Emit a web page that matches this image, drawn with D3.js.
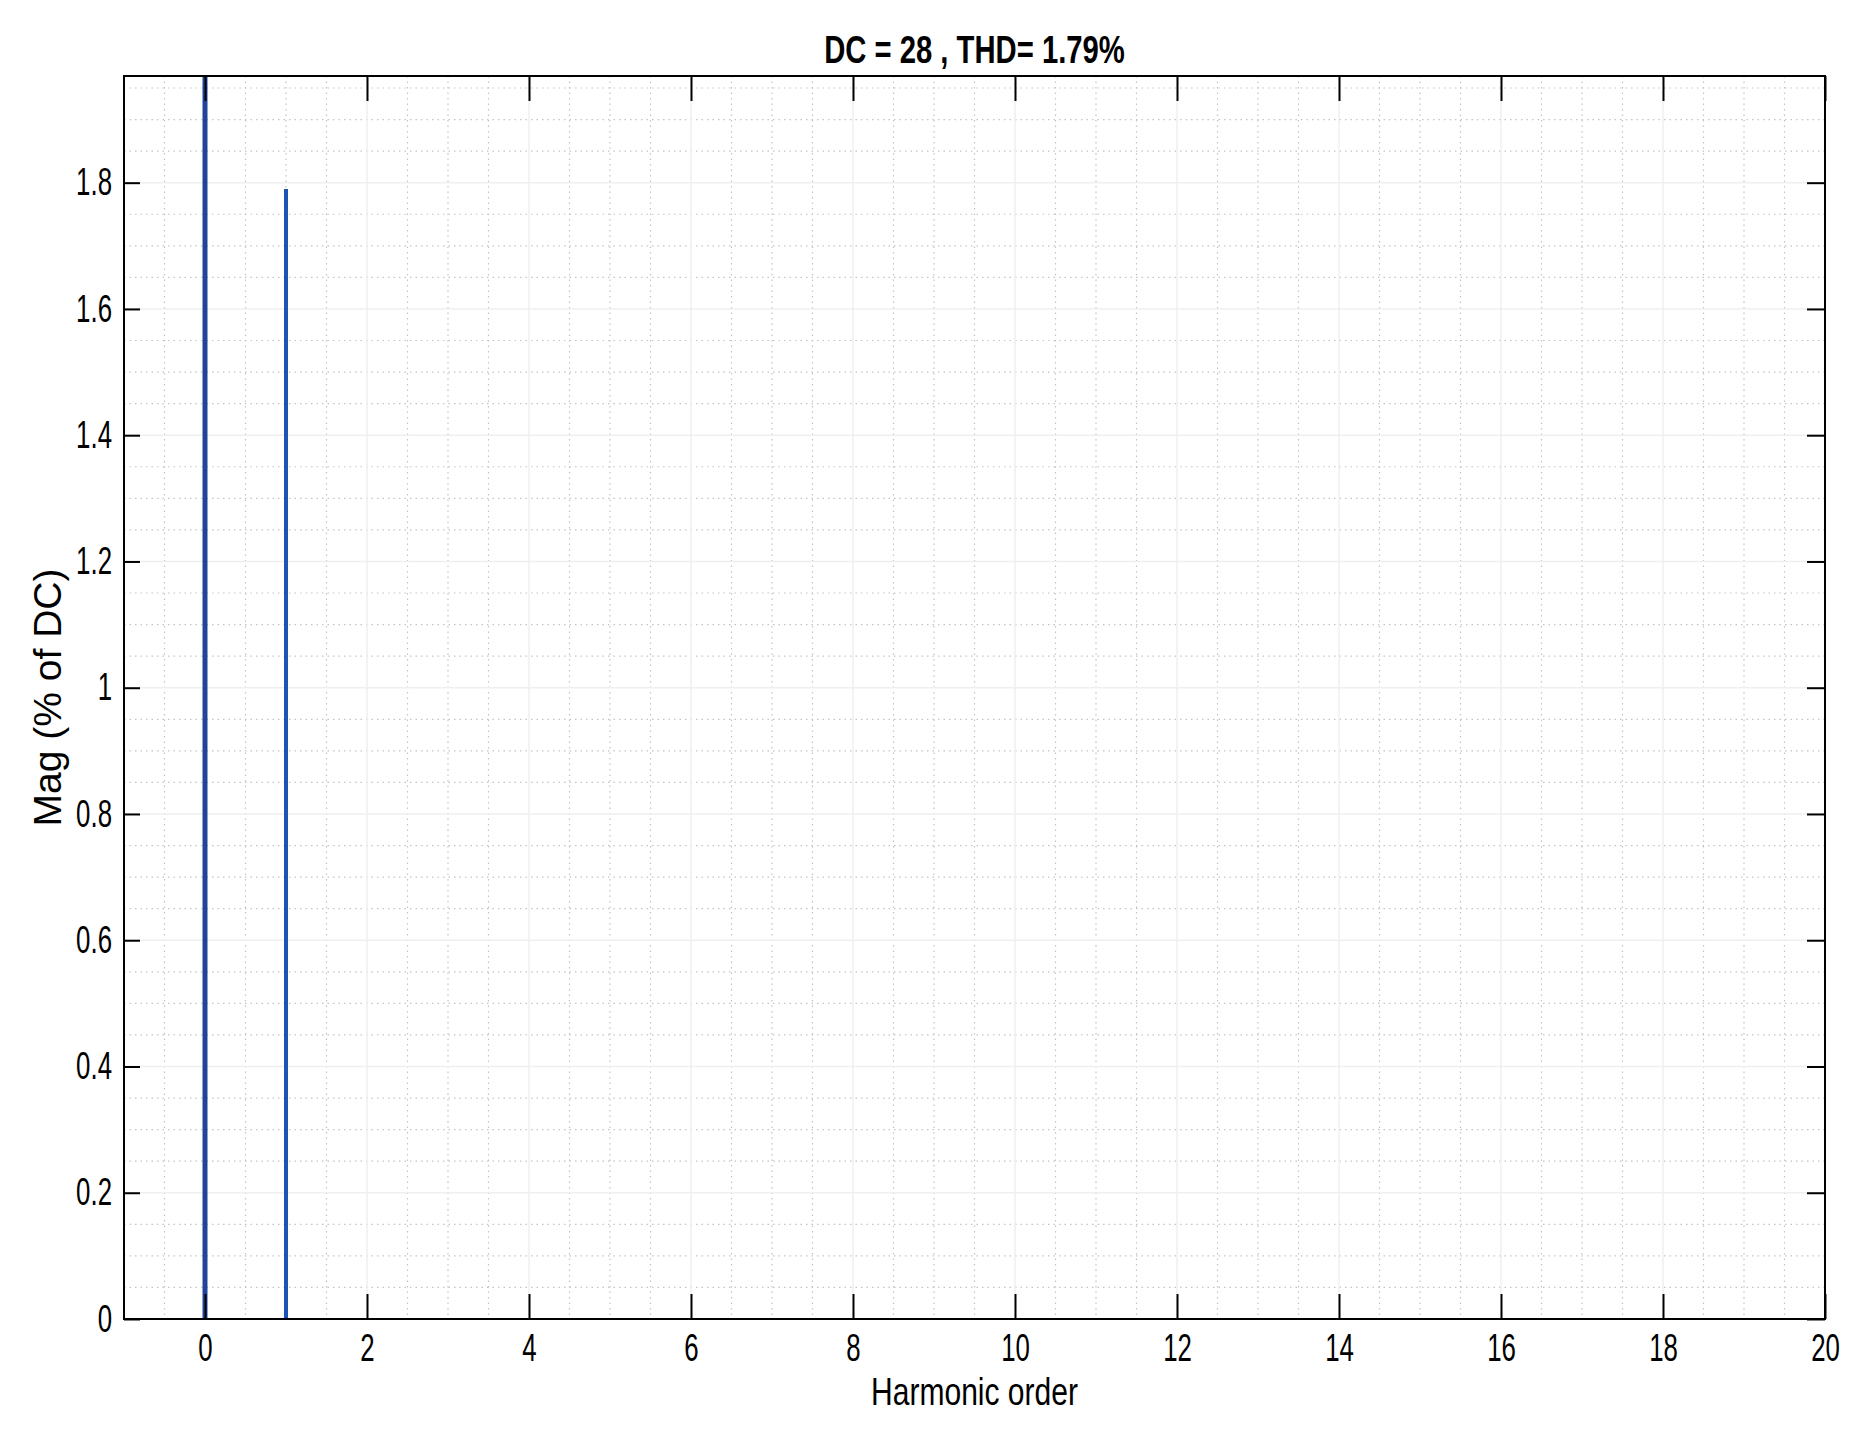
<!DOCTYPE html>
<html>
<head>
    <meta charset="UTF-8">
    <title>Harmonic spectrum</title>
    <style>
        body { margin: 0; background: #fff; }
        text { font-family: "Liberation Sans", Arial, sans-serif; fill: #000; }
    </style>
</head>
<body>
<div id="chart"></div>
<script src="https://cdn.jsdelivr.net/npm/d3@7"></script>
<script>
// values
var harmonicOrder = [0, 1];
var magnitude = [100, 1.79];          // % of DC, the DC bin runs off the top
var dcValue = 28;
var thdValue = 1.79;
var xTicks = [0, 2, 4, 6, 8, 10, 12, 14, 16, 18, 20];
var yTicks = [0, 0.2, 0.4, 0.6, 0.8, 1, 1.2, 1.4, 1.6, 1.8];

var width = 1870, height = 1438;
var margin = {top: 76, right: 45, bottom: 119, left: 124};
var w = width - margin.left - margin.right;
var h = height - margin.top - margin.bottom;
var narrow = 0.68;   // the original uses a condensed face, squeeze the glyphs

var svg = d3.select("#chart").append("svg")
        .attr("width", width)
        .attr("height", height);

var g = svg.append("g")
        .attr("transform", "translate(" + margin.left + "," + margin.top + ")");

var x = d3.scaleLinear().domain([-1, 20]).range([0, w]);
var y = d3.scaleLinear().domain([0, thdValue * 1.1]).range([h, 0]);

// minor grid, dotted
var minorX = d3.range(-0.5, 20, 0.5).filter(function(v) { return xTicks.indexOf(v) < 0; });
var minorY = d3.range(0.05, y.domain()[1], 0.05).filter(function(v) {
    return Math.abs(v / 0.2 - Math.round(v / 0.2)) > 1e-6;
});
g.append("g").selectAll("line").data(minorX).enter().append("line")
        .attr("x1", function(d) { return x(d); })
        .attr("x2", function(d) { return x(d); })
        .attr("y1", 0).attr("y2", h)
        .attr("stroke", "#c4c4c4").attr("stroke-width", 1.2)
        .attr("stroke-dasharray", "1.5,4");
g.append("g").selectAll("line").data(minorY).enter().append("line")
        .attr("x1", 0).attr("x2", w)
        .attr("y1", function(d) { return y(d); })
        .attr("y2", function(d) { return y(d); })
        .attr("stroke", "#c4c4c4").attr("stroke-width", 1.2)
        .attr("stroke-dasharray", "1.5,4");

// major grid, faint solid
g.append("g").selectAll("line").data(xTicks).enter().append("line")
        .attr("x1", function(d) { return x(d); })
        .attr("x2", function(d) { return x(d); })
        .attr("y1", 0).attr("y2", h)
        .attr("stroke", "#efefef").attr("stroke-width", 1.5);
g.append("g").selectAll("line").data(yTicks).enter().append("line")
        .attr("x1", 0).attr("x2", w)
        .attr("y1", function(d) { return y(d); })
        .attr("y2", function(d) { return y(d); })
        .attr("stroke", "#efefef").attr("stroke-width", 1.5);

// stems
g.append("clipPath").attr("id", "clip")
        .append("rect").attr("width", w).attr("height", h);
g.append("g").attr("clip-path", "url(#clip)")
        .selectAll("line").data(harmonicOrder).enter().append("line")
        .attr("x1", function(d) { return x(d); })
        .attr("x2", function(d) { return x(d); })
        .attr("y1", y(0))
        .attr("y2", function(d, i) { return y(magnitude[i]); })
        .attr("stroke", function(d, i) { return i == 0 ? "#21449a" : "#1d55b5"; })
        .attr("stroke-width", function(d, i) { return i == 0 ? 5 : 4; });

// axes: ticks inside, on all four sides
function styleAxis(sel) {
    sel.select(".domain").remove();
    sel.selectAll(".tick line").attr("stroke", "#000").attr("stroke-width", 2);
    sel.attr("font-family", null).attr("font-size", 38);
}
var yFmt = function(d) { return d3.format("")(+d.toFixed(1)); };

g.append("g").attr("transform", "translate(0," + h + ")")
        .call(d3.axisBottom(x).tickValues(xTicks).tickFormat(d3.format("d")).tickSizeInner(-25).tickPadding(15))
        .call(styleAxis)
        .selectAll("text").attr("transform", "scale(" + narrow + ",1)");
g.append("g")
        .call(d3.axisTop(x).tickValues(xTicks).tickFormat("").tickSizeInner(-25))
        .call(styleAxis);
g.append("g")
        .call(d3.axisLeft(y).tickValues(yTicks).tickFormat(yFmt).tickSizeInner(-16).tickPadding(12))
        .call(styleAxis)
        .selectAll("text")
        .attr("x", -12 / narrow)
        .attr("transform", "scale(" + narrow + ",1)");
g.append("g").attr("transform", "translate(" + w + ",0)")
        .call(d3.axisRight(y).tickValues(yTicks).tickFormat("").tickSizeInner(-18))
        .call(styleAxis);

// box
g.append("rect")
        .attr("width", w).attr("height", h)
        .attr("fill", "none").attr("stroke", "#000").attr("stroke-width", 2);

// labels
var cx = margin.left + w / 2;
svg.append("text")
        .attr("transform", "translate(" + cx + ",63) scale(0.75,1)")
        .attr("text-anchor", "middle")
        .attr("font-size", 39).attr("font-weight", "bold")
        .text("DC = " + dcValue + " , THD= " + thdValue + "%");
svg.append("text")
        .attr("transform", "translate(" + cx + ",1405) scale(0.77,1)")
        .attr("text-anchor", "middle")
        .attr("font-size", 39)
        .text("Harmonic order");
svg.append("text")
        .attr("transform", "translate(61," + (margin.top + h / 2) + ") rotate(-90)")
        .attr("text-anchor", "middle")
        .attr("font-size", 39)
        .text("Mag (% of DC)");
</script>
</body>
</html>
